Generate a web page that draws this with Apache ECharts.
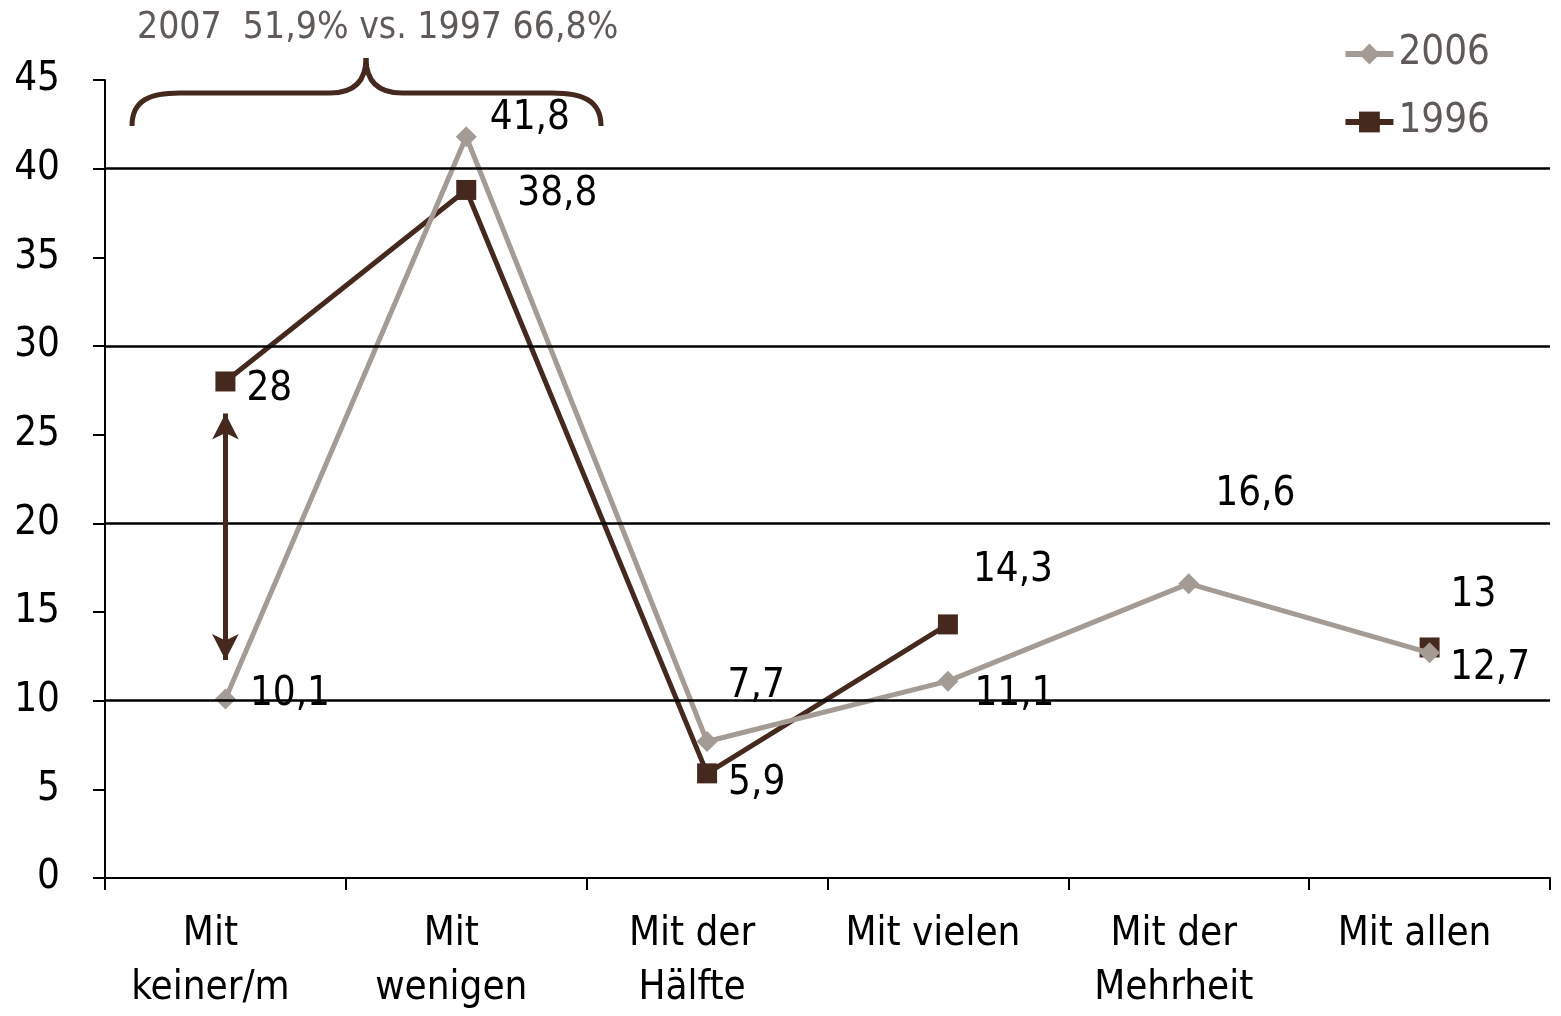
<!DOCTYPE html>
<html>
<head>
<meta charset="utf-8">
<script src="https://cdn.jsdelivr.net/npm/echarts@6/dist/echarts.min.js"></script>
<style>
  html, body { margin: 0; padding: 0; background: #fff; }
  #chart { width: 1561px; height: 1016px; }
</style>
</head>
<body>
<div id="chart"></div>
<script>
// Kategorien und Werte
var categories = ['Mit\nkeiner/m', 'Mit\nwenigen', 'Mit der\nHälfte', 'Mit vielen', 'Mit der\nMehrheit', 'Mit allen'];
var values2006 = [10.1, 41.8, 7.7, 11.1, 16.6, 12.7];
var values1996 = [28, 38.8, 5.9, 14.3, null, 13];
var gridValues = [10, 20, 30, 40];
var arrowFrom = 26.2, arrowTo = 12.3;

var FONT = "'Liberation Sans Narrow', 'DejaVu Sans Condensed', 'Roboto', sans-serif";
var DARK = '#45291f';
var GREY = '#a39b94';
var TEXTGREY = '#5f5a57';

// label offsets (style only)
var off1996 = [[6, 8], [36, 5], [6, 10], [10, -54], null, [6, -52]];
var off2006 = [[9, -4], [8, -18], [5, -55], [11, 13], [11, -89], [5, 16]];

function fmt(v) { return String(v).replace('.', ','); }

function build(vals, offs) {
    return vals.map(function (v, i) {
        if (v == null) return '-';
        return { value: v, label: { offset: offs[i] } };
    });
}

// geschweifte Klammer
var braceStyle = { fill: 'none', stroke: DARK, lineWidth: 5 };
function bez(a, b, c, d) {
    return { type: 'bezierCurve', shape: { x1: a[0], y1: a[1], cpx1: b[0], cpy1: b[1], cpx2: c[0], cpy2: c[1], x2: d[0], y2: d[1] }, style: braceStyle };
}
function seg(a, b) {
    return { type: 'line', shape: { x1: a[0], y1: a[1], x2: b[0], y2: b[1] }, style: braceStyle };
}

var myChart = echarts.init(document.getElementById('chart'));
var option = {
    animation: false,
    textStyle: { fontFamily: FONT },
    grid: { left: 105, right: 11, top: 80, bottom: 134, containLabel: false },
    legend: {
        data: ['2006', '1996'],
        orient: 'vertical',
        right: 66,
        top: 29,
        itemWidth: 48,
        itemHeight: 26,
        itemGap: 28,
        lineStyle: { width: 6 },
        textStyle: { fontSize: 40, color: TEXTGREY, fontFamily: FONT }
    },
    xAxis: {
        type: 'category',
        data: categories,
        boundaryGap: true,
        axisLine: { lineStyle: { color: '#000', width: 2 } },
        axisTick: { show: true, length: 12, lineStyle: { color: '#000', width: 2 } },
        axisLabel: {
            interval: 0, fontSize: 40, lineHeight: 54, color: '#000', margin: 30,
            padding: [0, 30, 0, 0], fontFamily: FONT
        }
    },
    yAxis: {
        type: 'value',
        min: 0, max: 45, interval: 5,
        axisLine: { show: true, lineStyle: { color: '#000', width: 2 } },
        axisTick: { show: true, length: 12, lineStyle: { color: '#000', width: 2 } },
        axisLabel: { fontSize: 40, color: '#000', margin: 45, fontFamily: FONT },
        splitLine: { show: false }
    },
    series: [
        {
            name: 'grid',
            type: 'line',
            data: [],
            silent: true,
            z: 1,
            markLine: {
                silent: true,
                symbol: ['none', 'none'],
                label: { show: false },
                lineStyle: { color: '#000', width: 2.5, type: 'solid' },
                data: gridValues.map(function (g) { return { yAxis: g }; })
            }
        },
        {
            name: '1996',
            type: 'line',
            data: build(values1996, off1996),
            connectNulls: false,
            symbol: 'rect',
            symbolSize: 20,
            z: 3,
            itemStyle: { color: DARK },
            lineStyle: { color: DARK, width: 5 },
            label: {
                show: true, position: 'right', fontSize: 40, color: '#000', fontFamily: FONT,
                formatter: function (p) { return fmt(p.value); }
            },
            markLine: {
                silent: true,
                symbol: ['arrow', 'arrow'],
                symbolSize: [20, 26],
                label: { show: false },
                lineStyle: { color: DARK, width: 5, type: 'solid' },
                data: [[{ coord: [0, arrowFrom] }, { coord: [0, arrowTo] }]]
            }
        },
        {
            name: '2006',
            type: 'line',
            data: build(values2006, off2006),
            symbol: 'diamond',
            symbolSize: 21,
            z: 4,
            itemStyle: { color: GREY },
            lineStyle: { color: GREY, width: 5 },
            label: {
                show: true, position: 'right', fontSize: 40, color: '#000', fontFamily: FONT,
                formatter: function (p) { return fmt(p.value); }
            }
        }
    ],
    graphic: [
        {
            type: 'text',
            left: 137,
            top: 10,
            style: { text: '2007  51,9% vs. 1997 66,8%', fontSize: 37, fill: TEXTGREY, fontFamily: FONT }
        },
        bez([132, 126], [132, 100], [150, 93], [180, 93]),
        seg([180, 93], [330, 93]),
        bez([330, 93], [355, 93], [366, 80], [366, 58]),
        bez([366, 58], [366, 80], [377, 93], [402, 93]),
        seg([402, 93], [552, 93]),
        bez([552, 93], [582, 93], [601, 100], [601, 126])
    ]
};
myChart.setOption(option);
window.addEventListener('resize', function () { myChart.resize(); });
</script>
</body>
</html>
